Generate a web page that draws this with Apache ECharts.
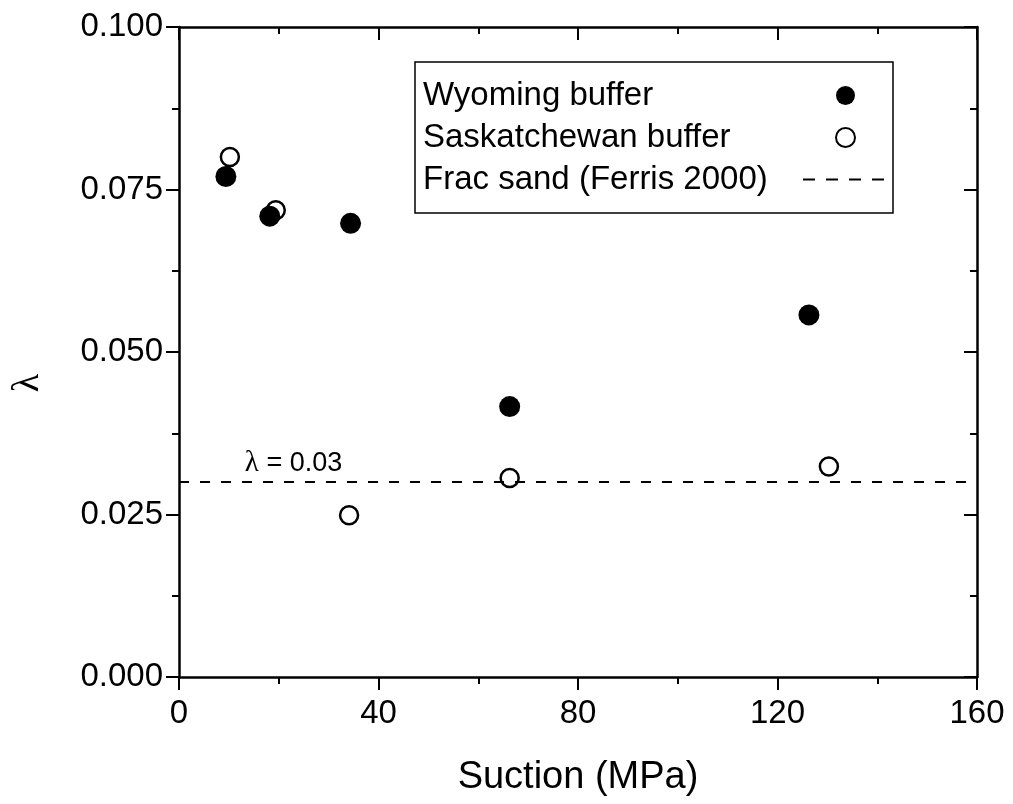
<!DOCTYPE html>
<html>
<head>
<meta charset="utf-8">
<script src="https://cdn.jsdelivr.net/npm/echarts@6/dist/echarts.min.js"></script>
<style>
html,body{margin:0;padding:0;background:#fff;}
#chart{width:1013px;height:804px;}
</style>
</head>
<body>
<div id="chart"></div>
<script>
// ---- data ----
const wyName = 'Wyoming buffer';
const skName = 'Saskatchewan buffer';
const fracName = 'Frac sand (Ferris 2000)';
const suctionWy = [9.4, 18.2, 34.4, 66.3, 126.3];
const lambdaWy  = [0.0770, 0.0709, 0.0698, 0.0416, 0.0557];
const suctionSk = [10.2, 19.4, 34.1, 66.3, 130.3];
const lambdaSk  = [0.0800, 0.0718, 0.0249, 0.0306, 0.0324];
const fracX = [0, 160];
const fracY = [0.03, 0.03];
const annotX = [13.2];
const annotY = [0.0328];
const annotText = ['λ = 0.03'];
const xTitle = 'Suction (MPa)';
const yTitle = 'λ';

const FONT = '"Liberation Sans", Arial, sans-serif';
const pairs = (xs, ys) => xs.map((x, i) => [x, ys[i]]);

const chart = echarts.init(document.getElementById('chart'), null, {renderer: 'canvas'});

const axisCommon = {
  type: 'value',
  axisLine: {show: true, onZero: false, lineStyle: {color: '#000', width: 2.5}},
  splitLine: {show: false},
  minorTick: {show: true, splitNumber: 2, length: 7, lineStyle: {color: '#000', width: 2}},
  axisTick: {show: true, length: 13, lineStyle: {color: '#000', width: 2}}
};

const option = {
  backgroundColor: '#fff',
  animation: false,
  grid: {left: 179, right: 36, top: 27, bottom: 127, containLabel: false},
  xAxis: [
    Object.assign({}, axisCommon, {
      min: 0, max: 160, interval: 40, position: 'bottom',
      axisTick: {show: true, inside: false, length: 13, lineStyle: {color: '#000', width: 2}},
      minorTick: {show: true, splitNumber: 2, length: 7, lineStyle: {color: '#000', width: 2}},
      axisLabel: {color: '#000', fontFamily: FONT, fontSize: 33, margin: 20},
      name: xTitle, nameLocation: 'middle', nameGap: 82,
      nameTextStyle: {color: '#000', fontFamily: FONT, fontSize: 38}
    }),
    Object.assign({}, axisCommon, {
      min: 0, max: 160, interval: 40, position: 'top',
      axisTick: {show: true, inside: true, length: 13, lineStyle: {color: '#000', width: 2}},
      minorTick: {show: true, splitNumber: 2, length: 7, lineStyle: {color: '#000', width: 2}},
      axisLabel: {show: false}
    })
  ],
  yAxis: [
    Object.assign({}, axisCommon, {
      min: 0, max: 0.1, interval: 0.025, position: 'left',
      axisTick: {show: true, inside: false, length: 13, lineStyle: {color: '#000', width: 2}},
      axisLabel: {color: '#000', fontFamily: FONT, fontSize: 33, margin: 16,
        formatter: v => v.toFixed(3)}
    }),
    Object.assign({}, axisCommon, {
      min: 0, max: 0.1, interval: 0.025, position: 'right',
      axisTick: {show: true, inside: true, length: 13, lineStyle: {color: '#000', width: 2}},
      axisLabel: {show: false}
    })
  ],
  legend: {
    show: true,
    orient: 'vertical',
    align: 'right',
    left: 415, top: 62,
    padding: [17, 4, 17, 8],
    itemGap: 9,
    itemWidth: 85, itemHeight: 19,
    borderColor: '#000', borderWidth: 1.5,
    data: [
      {name: wyName},
      {name: skName},
      {name: fracName,
       itemStyle: {color: 'rgba(0,0,0,0)', borderWidth: 0, opacity: 0},
       lineStyle: {color: '#000', width: 2, type: [12, 11], opacity: 1}}
    ],
    formatter: n => '{t|' + n + '}',
    textStyle: {
      color: '#000', fontFamily: FONT, fontSize: 33,
      rich: {t: {width: 375, align: 'left', fontSize: 33, lineHeight: 33, fontFamily: FONT, color: '#000'}}
    }
  },
  graphic: [{
    type: 'text', x: 28, y: 383, rotation: Math.PI / 2,
    style: {text: yTitle, fill: '#000', font: '38px "Liberation Serif", "DejaVu Serif", serif',
      align: 'center', verticalAlign: 'middle'}
  }],
  series: [
    {
      name: fracName, type: 'line', data: pairs(fracX, fracY),
      symbol: 'none', silent: true,
      lineStyle: {color: '#000', width: 2, type: [10, 11]},
      itemStyle: {color: '#000'}, z: 2
    },
    {
      name: skName, type: 'scatter', data: pairs(suctionSk, lambdaSk),
      symbol: 'circle', symbolSize: 18,
      itemStyle: {color: 'rgba(255,255,255,0)', borderColor: '#000', borderWidth: 2.5, opacity: 1},
      z: 3
    },
    {
      name: wyName, type: 'scatter', data: pairs(suctionWy, lambdaWy),
      symbol: 'circle', symbolSize: 21,
      itemStyle: {color: '#000', opacity: 1},
      z: 4
    },
    {
      name: 'annotation', type: 'scatter', data: pairs(annotX, annotY),
      symbolSize: 0, silent: true,
      itemStyle: {opacity: 1, color: '#000'},
      label: {
        show: true, position: 'right', distance: 0, color: '#000', opacity: 1,
        formatter: p => '{l|λ}{r|' + annotText[p.dataIndex].slice(1) + '}',
        rich: {
          l: {fontFamily: '"Liberation Serif", "DejaVu Serif", serif', fontSize: 29, color: '#000'},
          r: {fontFamily: FONT, fontSize: 27, color: '#000'}
        }
      },
      z: 5
    }
  ]
};
chart.setOption(option);
</script>
</body>
</html>
